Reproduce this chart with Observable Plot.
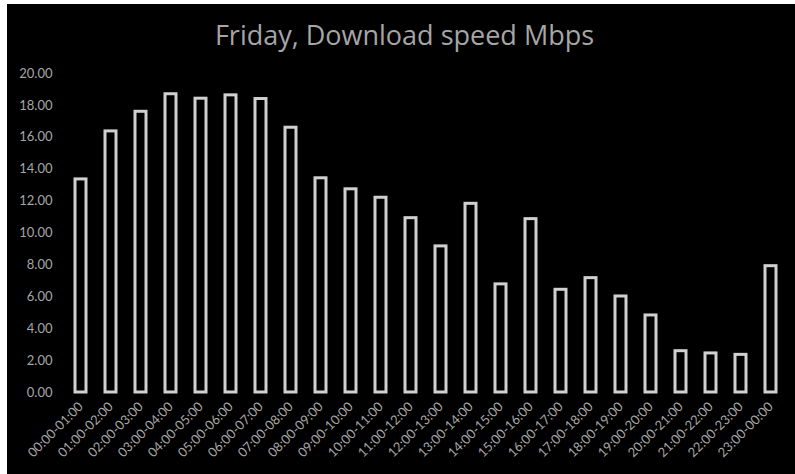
<!DOCTYPE html>
<html>
<head>
<meta charset="utf-8">
<script src="https://cdn.jsdelivr.net/npm/d3@7"></script>
<script src="https://cdn.jsdelivr.net/npm/@observablehq/plot@0.6"></script>
<style>
  html, body { margin: 0; padding: 0; background: #ffffff; }
  #frame { position: absolute; left: 7px; top: 4px; width: 788px; height: 470px; background: #000000; overflow: hidden; }
  #title { position: absolute; left: 7px; right: 0; top: 17px; text-align: center; font-family: "Open Sans", sans-serif; font-size: 27px; line-height: 1; color: #a6a6a6; white-space: nowrap; }
  #chart { position: absolute; left: 0; top: 0; }
</style>
</head>
<body>
<div id="frame">
  <div id="chart"></div>
  <div id="title">Friday, Download speed Mbps</div>
</div>
<script>
const titleText = "Friday, Download speed Mbps";
const hours = [
  "00:00-01:00","01:00-02:00","02:00-03:00","03:00-04:00","04:00-05:00","05:00-06:00",
  "06:00-07:00","07:00-08:00","08:00-09:00","09:00-10:00","10:00-11:00","11:00-12:00",
  "12:00-13:00","13:00-14:00","14:00-15:00","15:00-16:00","16:00-17:00","17:00-18:00",
  "18:00-19:00","19:00-20:00","20:00-21:00","21:00-22:00","22:00-23:00","23:00-00:00"
];
const speeds = [
  13.36, 16.37, 17.60, 18.70, 18.42, 18.63,
  18.40, 16.60, 13.43, 12.74, 12.21, 10.93,
  9.16, 11.83, 6.78, 10.87, 6.44, 7.17,
  6.02, 4.83, 2.59, 2.45, 2.36, 7.92
];
const yTicks = [0, 2, 4, 6, 8, 10, 12, 14, 16, 18, 20];

const data = hours.map((h, i) => ({hour: h, speed: speeds[i]}));

const chart = Plot.plot({
  width: 788,
  height: 470,
  marginLeft: 58,
  marginRight: 10,
  marginTop: 69,
  marginBottom: 82,
  style: {background: "#000000", fontFamily: "Lato, sans-serif", fontSize: "13px", color: "#a6a6a6"},
  x: {domain: hours, paddingInner: 0.65, paddingOuter: 0.325, label: null},
  y: {domain: [0, 20], label: null},
  marks: [
    Plot.axisY({ticks: yTicks, tickFormat: d3.format(".2f"), tickSize: 0, tickPadding: 13, fill: "#a6a6a6", fontSize: 13, label: null}),
    Plot.axisX({tickRotate: -45, tickSize: 0, tickPadding: 12, fill: "#a6a6a6", fontSize: 13, label: null}),
    Plot.barY(data, {x: "hour", y: "speed", fill: "#000000", stroke: "#d0d0d0", strokeWidth: 3})
  ]
});
document.getElementById("chart").appendChild(chart);
document.getElementById("title").textContent = titleText;
</script>
</body>
</html>
